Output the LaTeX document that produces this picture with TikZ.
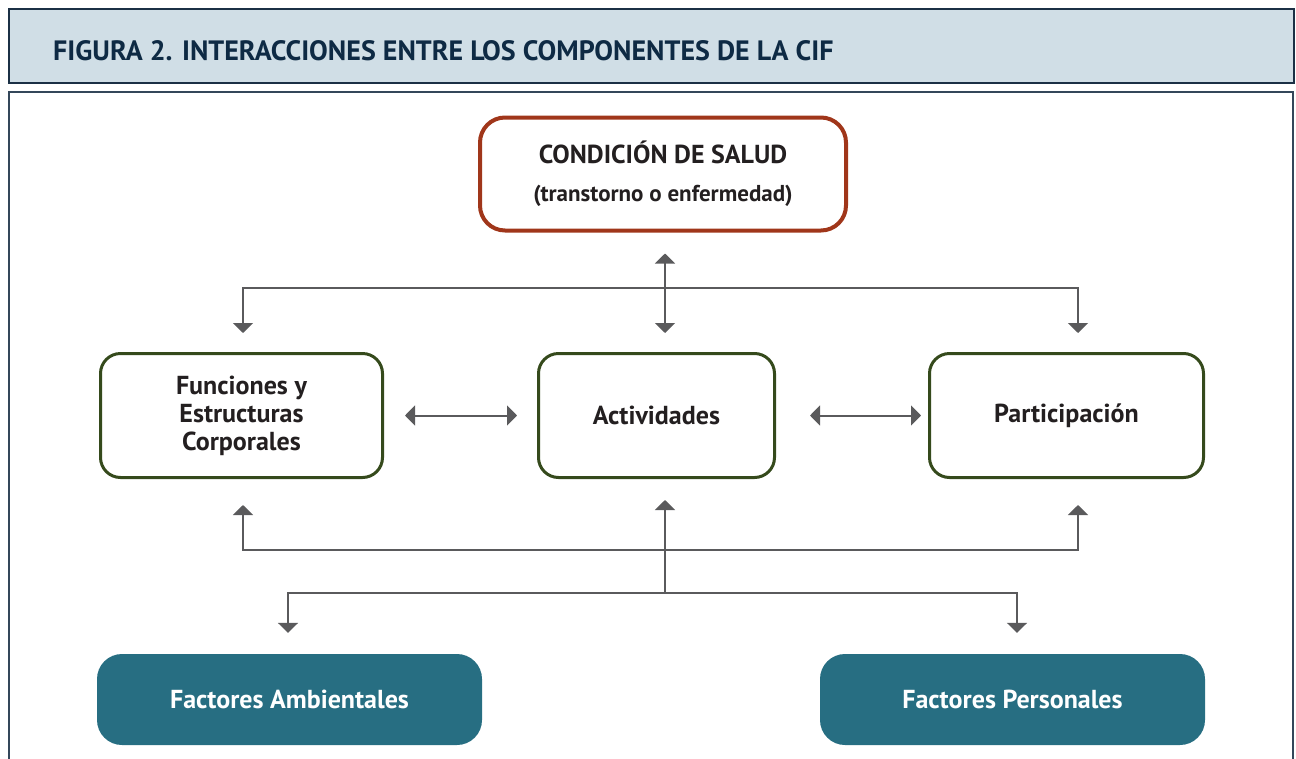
\documentclass[tikz,border=0pt]{standalone}
\usepackage{fontspec}
\setmainfont{PT Sans}
\usetikzlibrary{arrows.meta,positioning}
\definecolor{headfill}{HTML}{D0DEE6}
\definecolor{headline}{HTML}{1B3045}
\definecolor{titlecol}{HTML}{0E2A44}
\definecolor{framecol}{HTML}{34475A}
\definecolor{condred}{HTML}{A0361A}
\definecolor{compgreen}{HTML}{354A1C}
\definecolor{factteal}{HTML}{276E82}
\definecolor{linkgray}{HTML}{5A5A5C}
\definecolor{txtdark}{HTML}{231F20}
\tikzset{
  comp/.style={draw=compgreen, line width=3pt, rounded corners=20pt, fill=white,
    inner sep=0pt, minimum height=124pt, align=center, text=txtdark,
    font=\fontsize{26}{28}\selectfont\bfseries},
  fact/.style={fill=factteal, rounded corners=25pt, inner sep=0pt,
    minimum width=385pt, minimum height=91pt, text=white,
    font=\fontsize{26}{28}\selectfont\bfseries},
  link/.style={draw=linkgray, line width=2pt},
  tip/.tip={Triangle[width=20pt,length=10pt]}
}
\begin{document}
\begin{tikzpicture}[x=1pt,y=-1pt]
    \useasboundingbox (0,0) rectangle (1296,758);
    % title bar and frame
    \draw[fill=headfill, draw=headline, line width=1.5pt] (9,9) rectangle (1294,83);
    \node[anchor=west, inner sep=0pt, text=titlecol, font=\fontsize{28}{32}\selectfont\bfseries] (title) at (53,51)
        {FIGURA 2. INTERACCIONES ENTRE LOS COMPONENTES DE LA CIF};
    \draw[framecol, line width=1.5pt] (9,780) -- (9,92) -- (1293,92) -- (1293,780);
    % boxes
    \node[draw=condred, line width=4pt, rounded corners=25pt, inner sep=0pt,
        minimum width=366pt, minimum height=113pt, align=center, text=txtdark,
        font=\fontsize{26}{38}\selectfont\bfseries] (cond) at (663,174)
        {CONDICIÓN DE SALUD\\{\fontsize{23}{38}\selectfont (transtorno o enfermedad)}};
    \node[comp, minimum width=282pt] (func) at (241.5,415.5) {Funciones y\\Estructuras\\Corporales};
    \node[comp, minimum width=236pt] (act) at (656.5,415.5) {Actividades};
    \node[comp, minimum width=274pt] (part) at (1066.5,415.5) {Participación};
    \node[fact] (amb) at (289.5,699.5) {Factores Ambientales};
    \node[fact] (pers) at (1012.5,699.5) {Factores Personales};
    % connectors
    \coordinate (topbus) at (665,288);
    \coordinate (lowbus) at (665,550);
    \coordinate (split) at (665,593);
    \draw[link, tip-tip, shorten <=21pt, shorten >=19pt] (topbus |- cond.south) -- (topbus |- act.north);
    \draw[link, tip-tip, shorten <=19pt, shorten >=19pt] ([xshift=1.5pt]func.north) |- (topbus) -| ([xshift=11.5pt]part.north);
    \draw[link, tip-tip, shorten <=21pt, shorten >=20pt] (func.east) -- (act.west);
    \draw[link, tip-tip, shorten <=34pt, shorten >=7pt] (act.east) -- (part.west);
    \draw[link, tip-tip, shorten <=26pt, shorten >=26pt] ([xshift=1.5pt]func.south) |- (lowbus) -| ([xshift=11.5pt]part.south);
    \draw[link, -tip, shorten >=21pt] (split) -- (split |- act.south);
    \draw[link, tip-tip, shorten <=21pt, shorten >=21pt] ([xshift=-1.5pt]amb.north) |- (split) -| ([xshift=4.5pt]pers.north);
\end{tikzpicture}
\end{document}
